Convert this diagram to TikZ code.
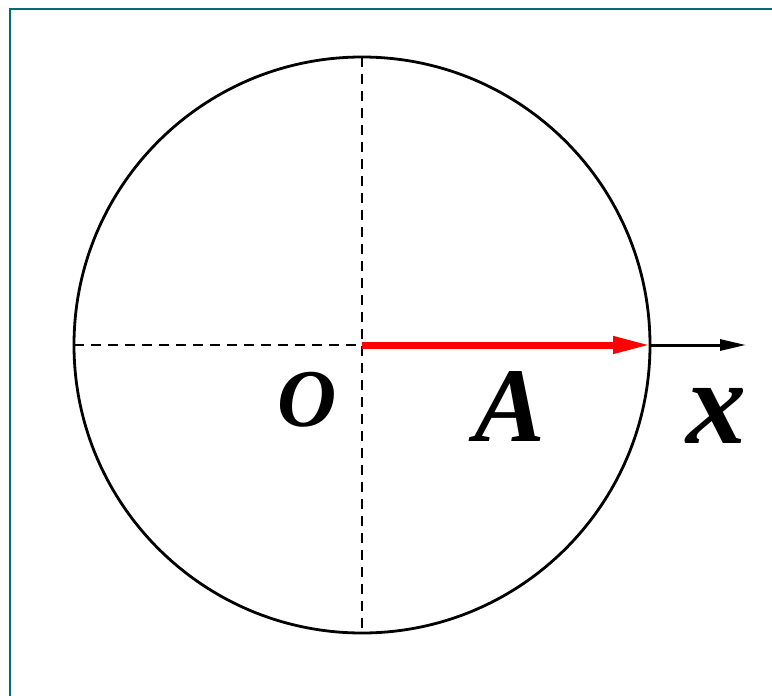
\documentclass[tikz,border=0pt]{standalone}
\usepackage{fontspec}
\setmainfont{Liberation Serif}
\usetikzlibrary{arrows.meta}
\definecolor{frameteal}{RGB}{0,110,110}
\tikzset{
  dashline/.style={line width=2.4pt, dash pattern=on 10pt off 7pt},
  lbl/.style={inner sep=0pt, anchor=center},
}
\begin{document}
\begin{tikzpicture}[x=1pt,y=-1pt]
\useasboundingbox (0,0) rectangle (772,696);
\draw[frameteal, line width=2.2pt] (10,696) -- (10,9) -- (772,9);
\coordinate (C) at (362,345);
\coordinate (T) at (362,57);
\coordinate (B) at (362,633);
\coordinate (L) at (74,345);
\coordinate (E) at (650,345);
\coordinate (X) at (746,345);
\draw[line width=2.8pt] (C) circle (288);
\draw[dashline] (L) -- (C);
\draw[dashline] (T) -- (B);
\draw[line width=3pt, -{Triangle[length=26pt,width=11pt]}] (E) -- (X);
\draw[red, line width=7pt, -{Triangle[length=38pt,width=16pt]}, shorten >=-1pt] (C) -- (E);
\node[lbl, font=\fontsize{82}{82}\selectfont\bfseries\itshape] (o) at (307,400) {O};
\node[lbl, font=\fontsize{106}{106}\selectfont\bfseries\itshape] (a) at (510,407) {A};
\node[lbl, font=\fontsize{120}{120}\selectfont\bfseries\itshape] (x) at (716,416) {x};
\end{tikzpicture}
\end{document}
